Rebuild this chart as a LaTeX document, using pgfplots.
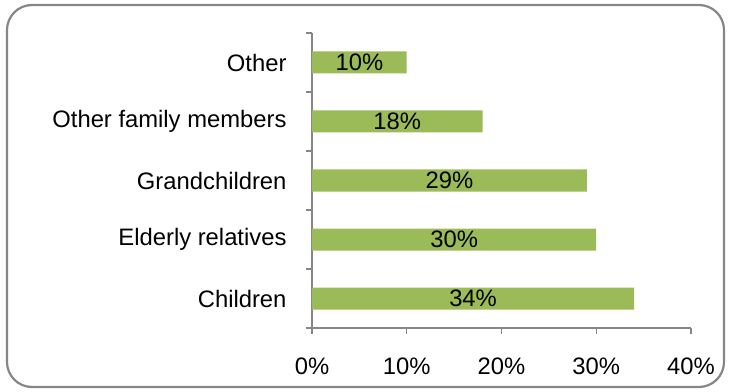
\documentclass[border=0pt]{standalone}
\usepackage{pgfplots}
\pgfplotsset{compat=1.18}
\usepackage{pgfplotstable}
\usepackage{fontspec}
\setmainfont{Liberation Sans}
\definecolor{bargreen}{HTML}{9BBB59}
\definecolor{axgray}{HTML}{868686}
\pgfplotstableread{
y v label
0 34 Children
1 30 {Elderly relatives}
2 29 Grandchildren
3 18 {Other family members}
4 10 Other
}\datatable
\begin{document}
\begin{tikzpicture}
\begin{axis}[
  name=ax,
  scale only axis,
  width=379bp, height=295bp,
  xmin=0, xmax=40,
  ymin=-0.5, ymax=4.5,
  axis x line*=bottom, axis y line*=left,
  axis line style={axgray, line width=1.2bp},
  every tick/.style={axgray, line width=1.2bp},
  tick align=outside,
  xtick={0,10,20,30,40},
  xticklabels={0\%,10\%,20\%,30\%,40\%},
  major tick length=6bp,
  minor tick length=6bp,
  ytick={0,1,2,3,4},
  yticklabels={Children,Elderly relatives,Grandchildren,Other family members,Other},
  minor ytick={-0.5,0.5,1.5,2.5,3.5,4.5},
  major y tick style={draw=none},
  every tick label/.append style={font=\fontsize{23.8bp}{28bp}\selectfont, text=black},
  yticklabel style={xshift=-16bp},
  xticklabel style={yshift=-20bp},
  clip=false,
]
\addplot[xbar, bar width=22bp, bar shift=0pt, fill=bargreen, draw=none] table[x=v, y=y] {\datatable};
\addplot[draw=none, mark=none, nodes near coords, point meta=explicit symbolic,
  nodes near coords={\pgfplotspointmeta\%},
  every node near coord/.append style={anchor=center, font=\fontsize{23.8bp}{28bp}\selectfont, text=black}]
  table[x expr=\thisrow{v}/2, y=y, meta=v] {\datatable};
\end{axis}
\path[use as bounding box] ([shift={(-312bp,-64bp)}]ax.south west) rectangle ([shift={(419bp,328bp)}]ax.south west);
\draw[axgray, line width=2.2bp, rounded corners=25bp] ([shift={(-305bp,-59bp)}]ax.south west) rectangle ([shift={(412bp,323bp)}]ax.south west);
\end{tikzpicture}
\end{document}
